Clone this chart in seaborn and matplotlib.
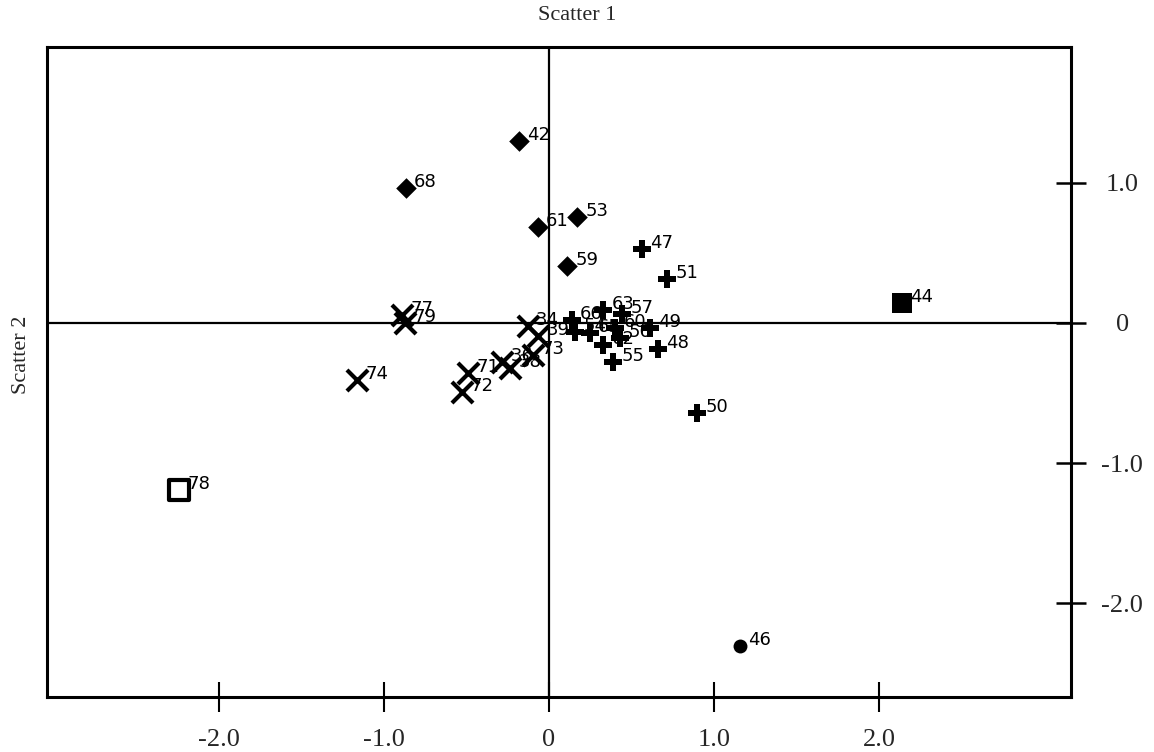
import matplotlib
matplotlib.use("Agg")
import matplotlib.pyplot as plt
import seaborn as sns
import pandas as pd

# ---- data ----
diamond_labels = ["42", "68", "61", "53", "59"]
diamond_x = [-0.181, -0.867, -0.067, 0.170, 0.109]
diamond_y = [1.300, 0.964, 0.686, 0.757, 0.407]

plus_labels = ["47", "51", "49", "48", "55", "50", "66", "63", "57", "60", "56", "65", "62", "54"]
plus_x = [0.564, 0.715, 0.612, 0.660, 0.387, 0.897, 0.139, 0.328, 0.442, 0.400, 0.431, 0.248, 0.328, 0.158]
plus_y = [0.529, 0.314, -0.036, -0.186, -0.279, -0.643, 0.021, 0.093, 0.064, -0.036, -0.107, -0.071, -0.157, -0.064]

cross_labels = ["77", "79", "74", "71", "72", "36", "38", "73", "34", "39"]
cross_x = [-0.891, -0.873, -1.163, -0.490, -0.528, -0.284, -0.236, -0.097, -0.128, -0.067]
cross_y = [0.057, 0.0, -0.407, -0.357, -0.493, -0.279, -0.321, -0.229, -0.021, -0.093]

square_labels = ["44"]
square_x = [2.139]
square_y = [0.143]

open_square_labels = ["78"]
open_square_x = [-2.242]
open_square_y = [-1.193]

circle_labels = ["46"]
circle_x = [1.158]
circle_y = [-2.307]

x_ticks = [-2.0, -1.0, 0.0, 1.0, 2.0]
x_tick_labels = ["-2.0", "-1.0", "0", "1.0", "2.0"]
y_ticks = [1.0, 0.0, -1.0, -2.0]
y_tick_labels = ["1.0", "0", "-1.0", "-2.0"]

title_text = "Scatter 1"
ylabel_text = "Scatter 2"

# ---- figure ----
sns.set_theme(style="white")
plt.rcParams["font.family"] = ["DejaVu Sans"]

fig = plt.figure(figsize=(11.54, 7.52), dpi=100)
ax = fig.add_axes([47 / 1154, 1 - 697 / 752, (1071 - 47) / 1154, (697 - 47) / 752])

def frame(labels, xs, ys):
    return pd.DataFrame({"label": labels, "x": xs, "y": ys})

groups = [
    (frame(diamond_labels, diamond_x, diamond_y), dict(marker="D", s=110, color="black", edgecolor="black", linewidth=0)),
    (frame(plus_labels, plus_x, plus_y), dict(marker="P", s=170, color="black", edgecolor="black", linewidth=0)),
    (frame(cross_labels, cross_x, cross_y), dict(marker="x", s=230, color="black", linewidth=3)),
    (frame(square_labels, square_x, square_y), dict(marker="s", s=190, color="black", edgecolor="black", linewidth=0)),
    (frame(open_square_labels, open_square_x, open_square_y), dict(marker="s", s=190, facecolor="white", edgecolor="black", linewidth=3)),
    (frame(circle_labels, circle_x, circle_y), dict(marker="o", s=100, color="black", edgecolor="black", linewidth=0)),
]

ax.axhline(0, color="black", linewidth=1.6, zorder=1)
ax.axvline(0, color="black", linewidth=1.6, zorder=1)

for df, kw in groups:
    sns.scatterplot(data=df, x="x", y="y", ax=ax, legend=False, zorder=3, **kw)
    for _, r in df.iterrows():
        ax.annotate(r["label"], (r["x"], r["y"]), xytext=(6, -2), textcoords="offset points",
                    ha="left", va="bottom", fontsize=13, color="black", zorder=4)

ax.set_xlim(-3.042, 3.164)
ax.set_ylim(-2.67, 1.97)

ax.set_xticks(x_ticks)
ax.set_xticklabels(x_tick_labels, fontfamily="Liberation Serif", fontsize=19)
ax.yaxis.tick_right()
ax.set_yticks(y_ticks)
ax.set_yticklabels(y_tick_labels, fontfamily="Liberation Serif", fontsize=19, ha="center")
ax.tick_params(axis="x", direction="inout", length=22, width=1.5, color="black", pad=12, bottom=True)
ax.tick_params(axis="y", direction="inout", length=22, width=1.8, color="black", pad=26, right=True, left=False)

ax.set_xlabel("")
ax.set_ylabel("")
for sp in ax.spines.values():
    sp.set_visible(True)
    sp.set_color("black")
    sp.set_linewidth(2.2)

fig.text(0.5, 1 - 15 / 752, title_text, ha="center", va="center", fontsize=16, fontfamily="Liberation Serif")
fig.text(22 / 1154, 1 - 355 / 752, ylabel_text, ha="center", va="center", rotation=90, fontsize=16,
         fontfamily="Liberation Serif")

fig.savefig("out.png", dpi=100, facecolor="white")
